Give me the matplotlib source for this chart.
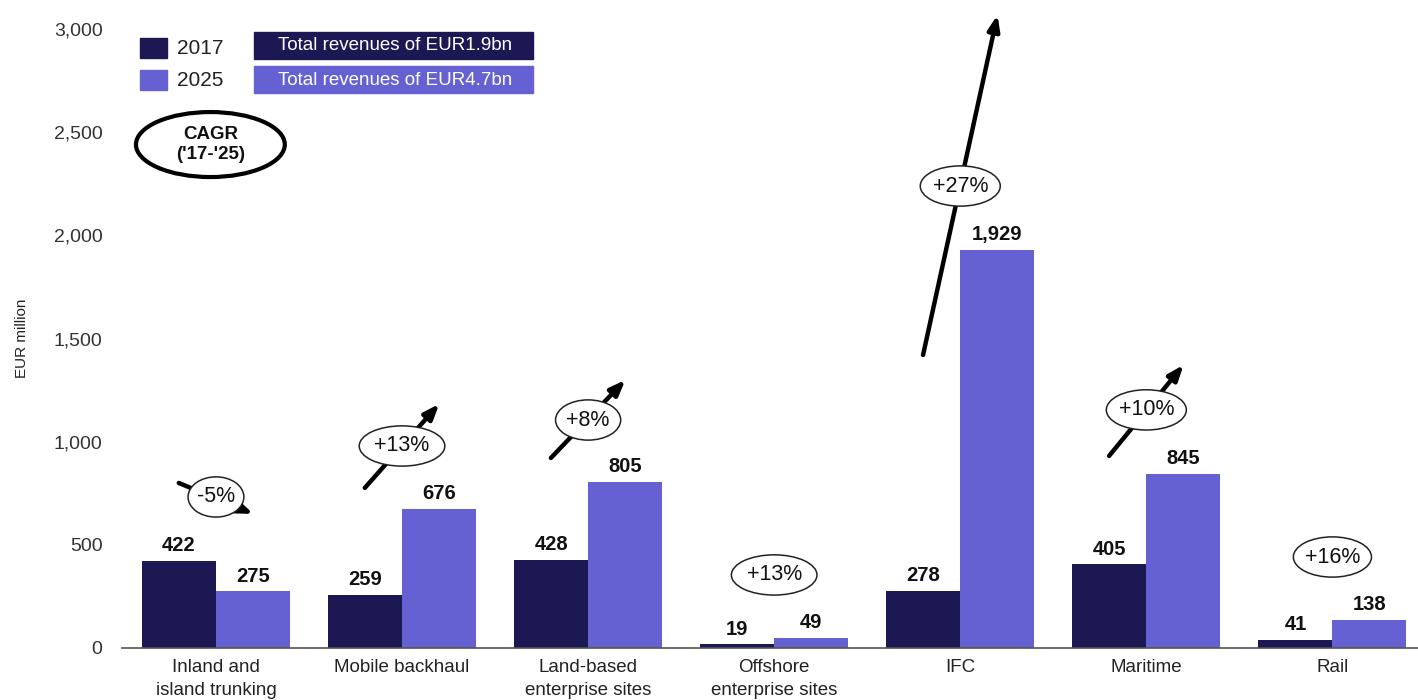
import matplotlib
matplotlib.use("Agg")
import matplotlib.pyplot as plt
from matplotlib.patches import Ellipse, Rectangle
import numpy as np

plt.rcParams['font.family'] = ['Liberation Sans', 'DejaVu Sans']

categories = ["Inland and\nisland trunking", "Mobile backhaul", "Land-based\nenterprise sites",
              "Offshore\nenterprise sites", "IFC", "Maritime", "Rail"]
values_2017 = [422, 259, 428, 19, 278, 405, 41]
values_2025 = [275, 676, 805, 49, 1929, 845, 138]
value_labels_2017 = ["422", "259", "428", "19", "278", "405", "41"]
value_labels_2025 = ["275", "676", "805", "49", "1,929", "845", "138"]
cagr_labels = ["-5%", "+13%", "+8%", "+13%", "+27%", "+10%", "+16%"]
# arrow (start y, end y) per group; None = no arrow
arrow_y = [(800, 650), (776, 1183), (921, 1299), None, (1420, 3068), (931, 1372), None]
ellipse_y = [732, 979, 1105, 354, 2239, 1154, 441]
ellipse_w = [0.30, 0.46, 0.35, 0.46, 0.43, 0.43, 0.42]
yticks = [0, 500, 1000, 1500, 2000, 2500, 3000]

DARK = "#1b1853"
LIGHT = "#6561d2"

fig = plt.figure(figsize=(14.18, 7.0), dpi=100)
ax = fig.add_axes([122/1418, 1 - 648/700, 1 - 122/1418, (648 - 29)/700])

x = np.arange(len(categories))
w = 0.398
ax.bar(x - w/2, values_2017, w, color=DARK, zorder=2)
ax.bar(x + w/2, values_2025, w, color=LIGHT, zorder=2)

for xi, v, lab in zip(x - w/2, values_2017, value_labels_2017):
    ax.annotate(lab, (xi, v), xytext=(0, 4), textcoords="offset points",
                ha="center", va="bottom", fontsize=14.5, fontweight="bold", color="#111111")
for xi, v, lab in zip(x + w/2, values_2025, value_labels_2025):
    ax.annotate(lab, (xi, v), xytext=(0, 4), textcoords="offset points",
                ha="center", va="bottom", fontsize=14.5, fontweight="bold", color="#111111")

ax.set_xlim(-0.505, 6.46)
ax.set_ylim(0, 3000)
ax.set_yticks(yticks)
ax.set_yticklabels([f"{t:,}" for t in yticks], fontsize=14, color="#333333")
ax.set_xticks(x)
ax.set_xticklabels(categories, fontsize=13.5, color="#222222", linespacing=1.45)
ax.tick_params(axis="y", length=0, pad=14)
ax.tick_params(axis="x", length=0, pad=8)
for s in ["top", "right", "left"]:
    ax.spines[s].set_visible(False)
ax.spines["bottom"].set_color("#555555")
ax.spines["bottom"].set_linewidth(1.2)

ax.set_ylabel("EUR million", fontsize=11, color="#222222")
ax.yaxis.set_label_coords(-0.072, 0.5)

# CAGR arrows and ellipses
for i in range(len(categories)):
    if arrow_y[i] is not None:
        y0, y1 = arrow_y[i]
        dx = 0.2
        ax.annotate("", xy=(i + dx, y1), xytext=(i - dx, y0),
                    arrowprops=dict(arrowstyle="-|>,head_length=0.9,head_width=0.35",
                                    color="black", lw=3.2, shrinkA=0, shrinkB=0),
                    zorder=4, annotation_clip=False)
    e = Ellipse((i, ellipse_y[i]), ellipse_w[i], 195, facecolor="white",
                edgecolor="#222222", lw=1.1, zorder=5, clip_on=False)
    ax.add_patch(e)
    ax.text(i, ellipse_y[i], cagr_labels[i], ha="center", va="center",
            fontsize=15.5, color="#111111", zorder=6)

# CAGR legend ellipse
ax.add_patch(Ellipse((-0.03, 2440), 0.80, 315, facecolor="white", edgecolor="black",
                     lw=3, zorder=5, clip_on=False))
ax.text(-0.03, 2440, "CAGR\n('17-'25)", ha="center", va="center", fontsize=13.5,
        fontweight="bold", color="#111111", zorder=6, linespacing=1.3)

# Legend
def px2x(px):
    return (px - 216) / 186
def py2y(py):
    return (648 - py) / (619 / 3000)

ax.add_patch(Rectangle((px2x(140), py2y(58)), 27/186, 20/(619/3000), color=DARK,
                       clip_on=False, zorder=5))
ax.add_patch(Rectangle((px2x(140), py2y(90)), 27/186, 20/(619/3000), color=LIGHT,
                       clip_on=False, zorder=5))
ax.text(px2x(177), py2y(48), "2017", fontsize=15, va="center", ha="left", color="#222222")
ax.text(px2x(177), py2y(80), "2025", fontsize=15, va="center", ha="left", color="#222222")
ax.add_patch(Rectangle((px2x(254), py2y(59)), 279/186, 27/(619/3000), color=DARK,
                       clip_on=False, zorder=5))
ax.add_patch(Rectangle((px2x(254), py2y(93)), 279/186, 27/(619/3000), color=LIGHT,
                       clip_on=False, zorder=5))
ax.text(px2x(395), py2y(46), "Total revenues of EUR1.9bn", fontsize=13.5, va="center",
        ha="center", color="white", zorder=6)
ax.text(px2x(395), py2y(80), "Total revenues of EUR4.7bn", fontsize=13.5, va="center",
        ha="center", color="white", zorder=6)

fig.savefig("out.png", dpi=100)
